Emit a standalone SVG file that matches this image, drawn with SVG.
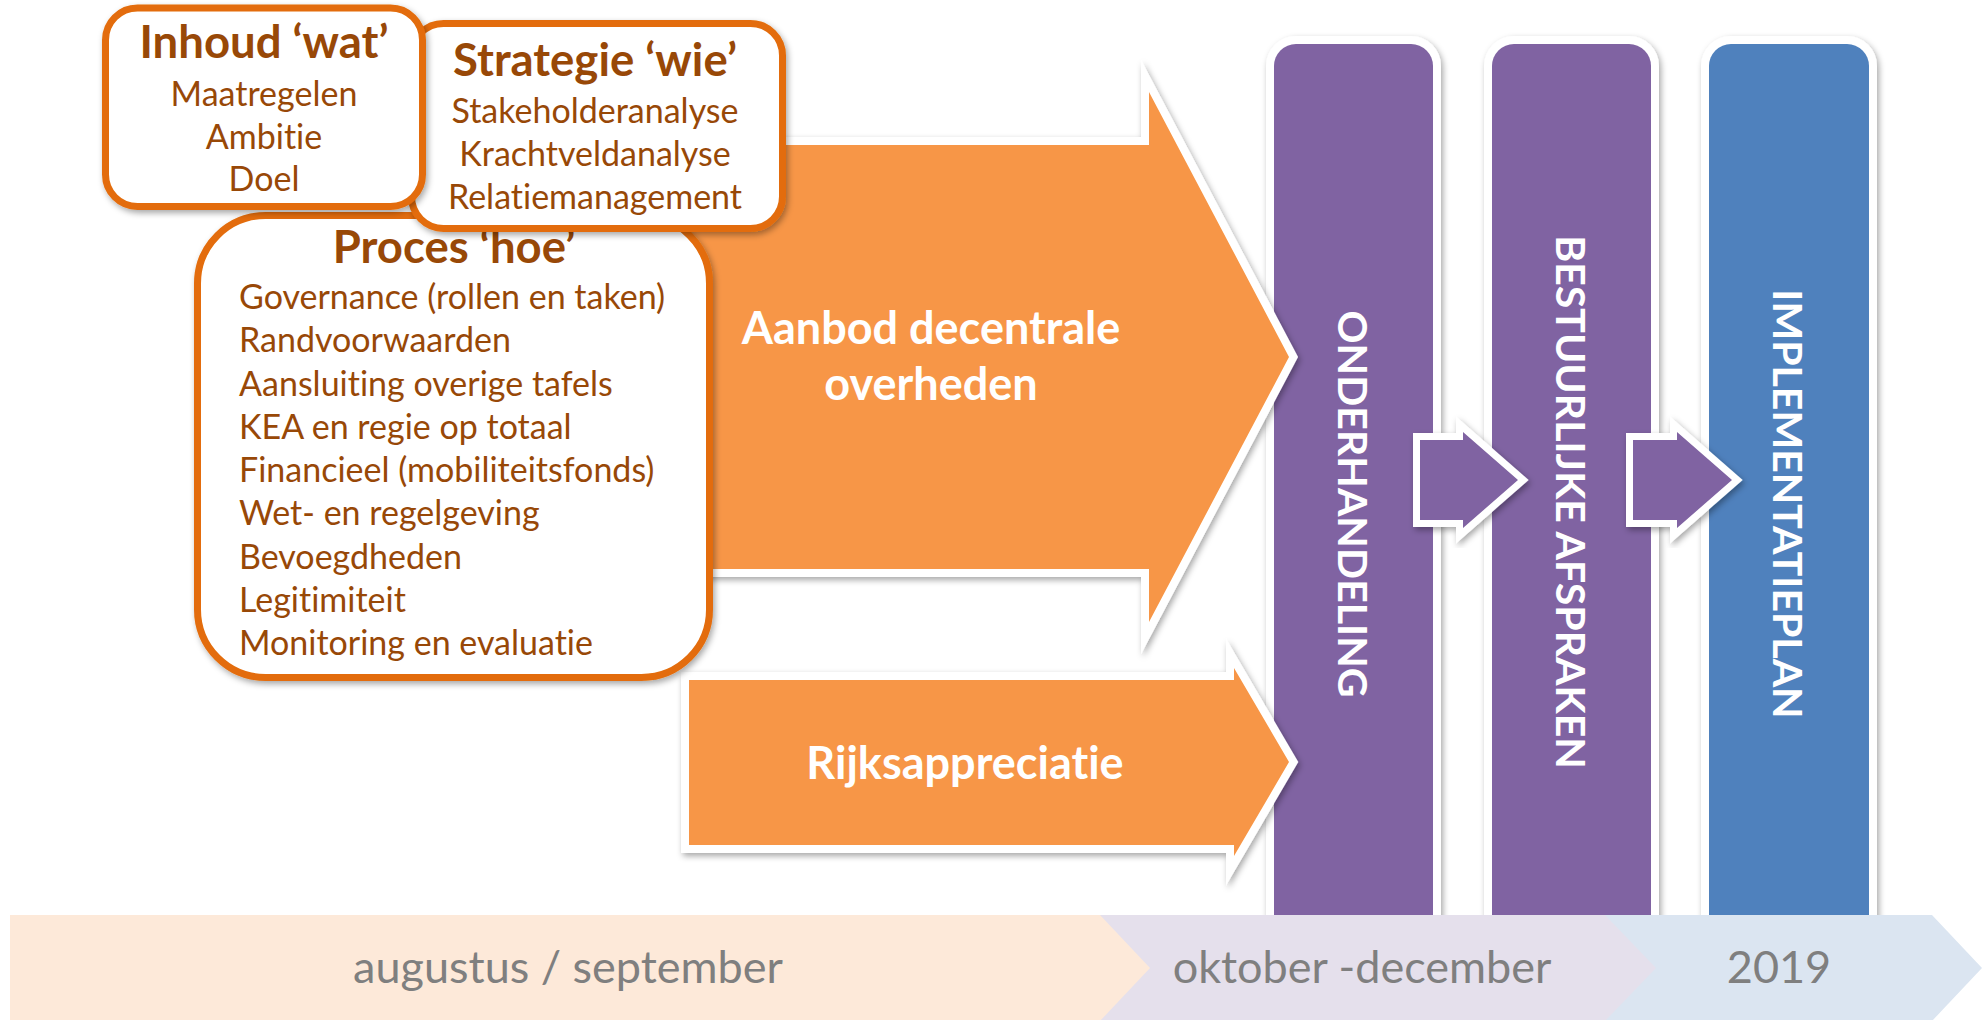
<svg xmlns="http://www.w3.org/2000/svg" width="1982" height="1020" viewBox="0 0 1982 1020">
<defs>
<filter id="sh" x="-20%" y="-20%" width="140%" height="140%">
<feDropShadow dx="2" dy="3" stdDeviation="3" flood-color="#000" flood-opacity="0.35"/>
</filter>
<style>
text{font-family:Lato,'Liberation Sans',sans-serif;font-variant-ligatures:none;font-feature-settings:"liga" 0,"clig" 0}
.box{fill:#fff;stroke:#E36C09;stroke-width:7;filter:url(#sh)}
.bt{font-weight:bold;font-size:45.5px;fill:#984807;text-anchor:middle}
.bb{font-size:34px;fill:#984807;text-anchor:middle}
.bl{font-size:34px;fill:#984807}
.oarr{fill:#F79646;stroke:#fff;stroke-width:16;stroke-miterlimit:12;paint-order:stroke;filter:url(#sh)}
.parr{fill:#8064A2;stroke:#fff;stroke-width:14;stroke-miterlimit:12;paint-order:stroke;filter:url(#sh)}
.col{stroke:#fff;stroke-width:16;paint-order:stroke;filter:url(#sh)}
.at{font-weight:bold;font-size:45px;fill:#fff;text-anchor:middle}
.vt{font-weight:bold;font-size:41px;fill:#fff;text-anchor:middle}
.tl{font-size:45px;fill:#7F7F7F;text-anchor:middle}
</style>
</defs>
<g id="col-onderhandeling">
<rect class="col" x="1274" y="44" width="159" height="1000" rx="22" fill="#8064A2"/>
</g>
<g id="col-bestuurlijke">
<rect class="col" x="1492" y="44" width="159" height="1000" rx="22" fill="#8064A2"/>
</g>
<g id="col-implementatie">
<rect class="col" x="1709" y="44" width="160" height="1000" rx="22" fill="#4F81BD"/>
</g>
<g id="timeline">
<polygon points="1600,915 1932,915 1982,968 1932,1021 1600,1021" fill="#DBE5F1"/>
<polygon points="1095,915 1605,915 1656,968 1605,1021 1095,1021" fill="#E5E0EC"/>
<polygon points="10,915 1100,915 1150,968 1100,1021 10,1021" fill="#FDE9D9"/>
<text class="tl" x="568" y="983">augustus / september</text>
<text class="tl" x="1362" y="983">oktober -december</text>
<text class="tl" x="1779" y="983">2019</text>
</g>
<g id="col-labels">
<text class="vt" transform="translate(1353,504) rotate(90)" y="15">ONDERHANDELING</text>
<text class="vt" transform="translate(1571,502) rotate(90)" y="15">BESTUURLIJKE AFSPRAKEN</text>
<text class="vt" transform="translate(1788,504) rotate(90)" y="15">IMPLEMENTATIEPLAN</text>
</g>
<g id="connectors">
<path class="parr" d="M1420,440 H1463 V432 L1518,480 L1463,528 V520 H1420 Z"/>
<path class="parr" d="M1633,440 H1677 V432 L1732,480 L1677,528 V520 H1633 Z"/>
</g>
<g id="arrow-aanbod">
<path class="oarr" d="M650,145 H1149 V92 L1289,357 L1149,622 V569 H650 Z"/>
<text class="at" x="931" y="344">Aanbod decentrale</text>
<text class="at" x="931" y="400">overheden</text>
</g>
<g id="arrow-rijks">
<path class="oarr" d="M689,680 H1234 V668 L1289,762 L1234,856 V845 H689 Z"/>
<text class="at" x="965" y="779">Rijksappreciatie</text>
</g>
<g id="proces">
<rect class="box" x="197.5" y="215.5" width="512" height="462" rx="68"/>
<text class="bt" x="454" y="263">Proces ‘hoe’</text>
<text class="bl" x="239" y="309">Governance (rollen en taken)</text>
<text class="bl" x="239" y="352">Randvoorwaarden</text>
<text class="bl" x="239" y="396">Aansluiting overige tafels</text>
<text class="bl" x="239" y="439">KEA en regie op totaal</text>
<text class="bl" x="239" y="482">Financieel (mobiliteitsfonds)</text>
<text class="bl" x="239" y="525">Wet- en regelgeving</text>
<text class="bl" x="239" y="569">Bevoegdheden</text>
<text class="bl" x="239" y="612">Legitimiteit</text>
<text class="bl" x="239" y="655">Monitoring en evaluatie</text>
</g>
<g id="strategie">
<rect class="box" x="411.5" y="23.5" width="371" height="205" rx="32"/>
<text class="bt" x="595" y="76">Strategie ‘wie’</text>
<text class="bb" x="595" y="123">Stakeholderanalyse</text>
<text class="bb" x="595" y="166">Krachtveldanalyse</text>
<text class="bb" x="595" y="209">Relatiemanagement</text>
</g>
<g id="inhoud">
<rect class="box" x="105.5" y="8" width="317" height="198.5" rx="32"/>
<text class="bt" x="264" y="58">Inhoud ‘wat’</text>
<text class="bb" x="264" y="106">Maatregelen</text>
<text class="bb" x="264" y="149">Ambitie</text>
<text class="bb" x="264" y="191">Doel</text>
</g>
</svg>
